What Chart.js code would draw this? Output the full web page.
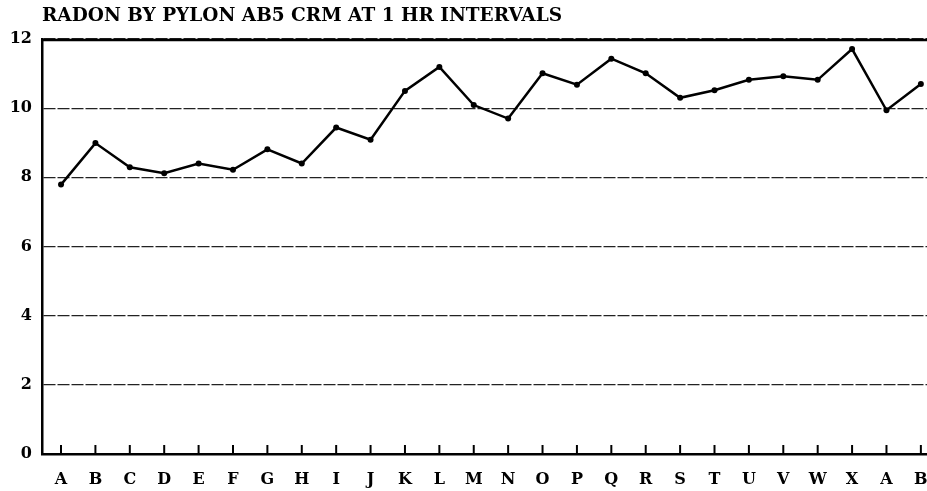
<!DOCTYPE html>
<html>
<head>
<meta charset="utf-8">
<script src="https://cdn.jsdelivr.net/npm/chart.js@4"></script>
<style>
  html, body { margin: 0; padding: 0; background: #fff; overflow: hidden; }
  #wrap { width: 940px; height: 491px; }
</style>
</head>
<body>
<div id="wrap"><canvas id="radonChart"></canvas></div>
<script>
const title = "RADON BY PYLON AB5 CRM AT 1 HR INTERVALS";
const hourLabels = ["A", "B", "C", "D", "E", "F", "G", "H", "I", "J", "K", "L", "M",
  "N", "O", "P", "Q", "R", "S", "T", "U", "V", "W", "X", "A", "B"];
const radon = [7.79, 8.99, 8.29, 8.12, 8.40, 8.22, 8.81, 8.40, 9.44, 9.09, 10.50, 11.19, 10.09,
  9.70, 11.01, 10.68, 11.43, 11.01, 10.30, 10.52, 10.82, 10.92, 10.82, 11.71, 9.94, 10.70];
const yTicks = [0, 2, 4, 6, 8, 10, 12];

const font = "'DejaVu Serif', 'Liberation Serif', serif";

// frame line on top + little tick marks standing up from the x axis
const frame = {
  id: "frame",
  afterDraw(chart) {
    const { ctx, chartArea, scales } = chart;
    ctx.save();
    ctx.strokeStyle = "#000";
    ctx.lineWidth = 2.5;
    ctx.beginPath();
    ctx.moveTo(chartArea.left, chartArea.top + 1);
    ctx.lineTo(chartArea.right, chartArea.top + 1);
    ctx.stroke();
    ctx.lineWidth = 2;
    scales.x.ticks.forEach((t) => {
      const x = scales.x.getPixelForValue(t.value);
      ctx.beginPath();
      ctx.moveTo(x, chartArea.bottom);
      ctx.lineTo(x, chartArea.bottom - 9);
      ctx.stroke();
    });
    ctx.restore();
  },
};

new Chart(document.getElementById("radonChart"), {
  type: "line",
  data: {
    datasets: [{
      data: radon.map((v, i) => ({ x: i, y: v })),
      borderColor: "#000",
      backgroundColor: "#000",
      borderWidth: 2.5,
      pointRadius: 3,
      pointBorderWidth: 0,
      tension: 0,
      clip: false,
    }],
  },
  options: {
    responsive: true,
    maintainAspectRatio: false,
    animation: false,
    layout: { padding: 0 },
    plugins: {
      legend: { display: false },
      tooltip: { enabled: false },
      title: {
        display: true,
        text: title,
        align: "start",
        fullSize: false,
        color: "#000",
        font: { family: font, size: 18.5, weight: "bold", lineHeight: 1.2 },
        padding: { top: 5, bottom: 11.8 },
      },
    },
    scales: {
      x: {
        type: "linear",
        min: -0.553,
        max: 25.44,
        afterBuildTicks: (s) => { s.ticks = hourLabels.map((_, i) => ({ value: i })); },
        afterFit: (s) => { s.height = 37; s.paddingLeft = 0; s.paddingRight = 0; },
        grid: { display: false, drawTicks: false },
        border: { display: true, color: "#000", width: 2.5 },
        ticks: {
          autoSkip: false,
          maxRotation: 0,
          padding: 16,
          color: "#000",
          font: { family: font, size: 16, weight: "bold" },
          callback: (v) => hourLabels[v] ?? "",
        },
      },
      y: {
        min: 0,
        max: 12,
        afterBuildTicks: (s) => { s.ticks = yTicks.map((v) => ({ value: v })); },
        afterFit: (s) => { s.width = 42; s.paddingTop = 0; s.paddingBottom = 0; },
        grid: { color: "#222", lineWidth: 1.3, drawTicks: false },
        border: { display: true, color: "#000", width: 2.5, dash: [12, 2] },
        ticks: {
          padding: 10,
          color: "#000",
          font: { family: font, size: 16, weight: "bold" },
        },
      },
    },
  },
  plugins: [frame],
});
</script>
</body>
</html>
